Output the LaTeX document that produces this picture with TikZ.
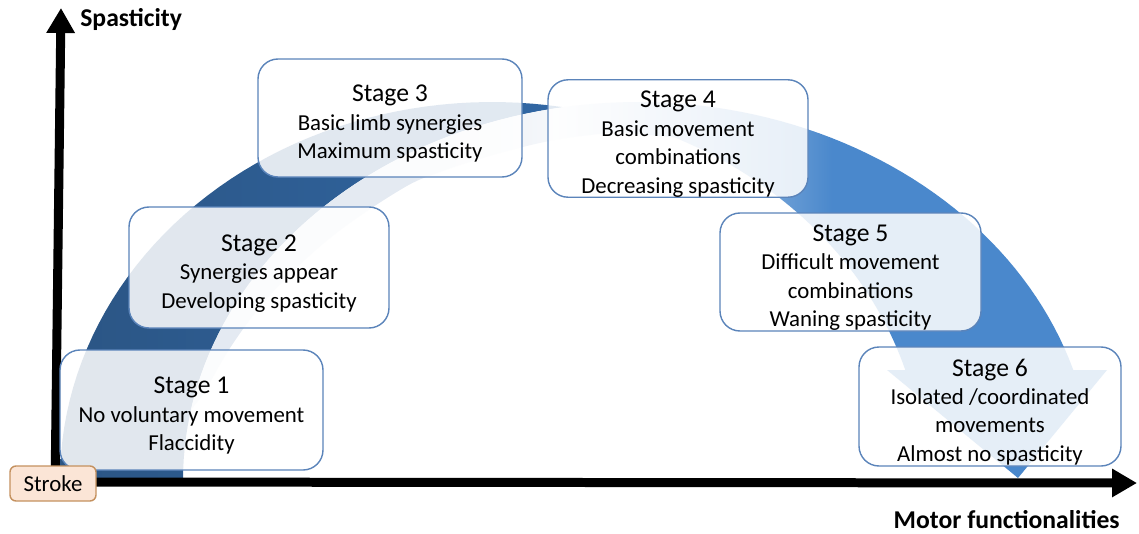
\documentclass[tikz,border=0pt]{standalone}
\usepackage{fontspec}
\setmainfont{Carlito}
\usetikzlibrary{arrows.meta}

\definecolor{backnavy}{HTML}{2B5584}
\definecolor{backblue}{HTML}{3167A4}
\definecolor{frontpale}{HTML}{E4EAF2}
\definecolor{frontwhite}{HTML}{F6F8FB}
\definecolor{frontblue}{HTML}{4A88CC}
\definecolor{boxline}{HTML}{5B84BA}
\definecolor{strokefill}{HTML}{FBE5D6}
\definecolor{strokeline}{HTML}{C4915F}

\pgfdeclarehorizontalshading{frontfade}{100bp}{color(0bp)=(frontpale); color(37bp)=(frontpale); color(45bp)=(frontwhite); color(60bp)=(frontblue); color(100bp)=(frontblue)}

\newcommand{\stagetitle}[1]{{\fontsize{14.6}{17.5}\selectfont\rule{0pt}{16pt}#1}}

\tikzset{
  stagebox/.style={draw=boxline, line width=0.8pt, rounded corners=0.4cm, fill=white, fill opacity=0.86, text opacity=1,
    align=center, inner sep=0pt, font=\fontsize{13}{16.2}\selectfont},
  stagesize/.style 2 args={minimum width=#1*0.02cm, minimum height=#2*0.02cm},
  axisline/.style={line width=0.18cm, -{Triangle[length=0.5cm,width=0.54cm]}},
  axislabel/.style={font=\fontsize{14.6}{17.5}\selectfont\bfseries, inner sep=0pt},
  strokebox/.style={draw=strokeline, line width=0.8pt, fill=strokefill, rounded corners=0.12cm, inner sep=0pt,
    font=\fontsize{13}{15.9}\selectfont},
}

\begin{document}
\begin{tikzpicture}[x=0.02cm, y=-0.02cm]
\useasboundingbox (0,0) rectangle (1139,534);

% back of the curved arrow
\shade[left color=backnavy, right color=backblue]
  plot[domain=0:99.5, samples=50] ({492-432*cos(\x)}, {480-378*sin(\x)})
  -- plot[domain=80.5:0, samples=50] ({638-455*cos(\x)}, {480-378*sin(\x)})
  -- cycle;

% front of the curved arrow, with its head
\shade[shading=frontfade]
  plot[domain=10.7:163.1, samples=90] ({638-455*cos(\x)}, {480-378*sin(\x)})
  -- (1107,370) coordinate (wingout) -- (1018,478) coordinate (tip) -- (887,370) coordinate (wingin)
  -- plot[domain=163.1:115, samples=40] ({492-432*cos(\x)}, {480-378*sin(\x)})
  -- plot[smooth, tension=0.6] coordinates {(620,132) (560,139) (500,153) (440,172) (400,190) (330,238) (270,295) (230,348) (205,392)}
  -- cycle;

% axes
\coordinate (yfoot) at (55,490);
\coordinate (ytop) at (61,8);
\coordinate (xfoot) at (45,482);
\coordinate (xend) at (1137,483);
\draw[axisline] (yfoot) -- (ytop);
\draw[axisline] (xfoot) -- (xend);

% stages
\node[stagebox, stagesize={263}{120}] (stage1) at (191.5,410) {\stagetitle{Stage 1}\\No voluntary movement\\Flaccidity};
\node[stagebox, stagesize={260}{121}] (stage2) at (259,267.5) {\stagetitle{Stage 2}\\Synergies appear\\Developing spasticity};
\node[stagebox, stagesize={264}{118}] (stage3) at (390,118) {\stagetitle{Stage 3}\\Basic limb synergies\\Maximum spasticity};
\node[stagebox, stagesize={260}{117}] (stage4) at (678,138.5) {\stagetitle{Stage 4}\\Basic movement\\combinations\\Decreasing spasticity};
\node[stagebox, stagesize={261}{118}] (stage5) at (850.5,272) {\stagetitle{Stage 5}\\Difficult movement\\combinations\\Waning spasticity};
\node[stagebox, stagesize={262}{119}] (stage6) at (990,406.5) {\stagetitle{Stage 6}\\Isolated /coordinated\\movements\\Almost no spasticity};

\node[strokebox, minimum width=86*0.02cm, minimum height=35*0.02cm] (stroke) at (53,483.5) {Stroke};

% axis labels
\node[axislabel, anchor=base west] (ylabel) at (80,27) {Spasticity};
\node[axislabel, anchor=base east] (xlabel) at (1120,528) {Motor functionalities};
\end{tikzpicture}
\end{document}
